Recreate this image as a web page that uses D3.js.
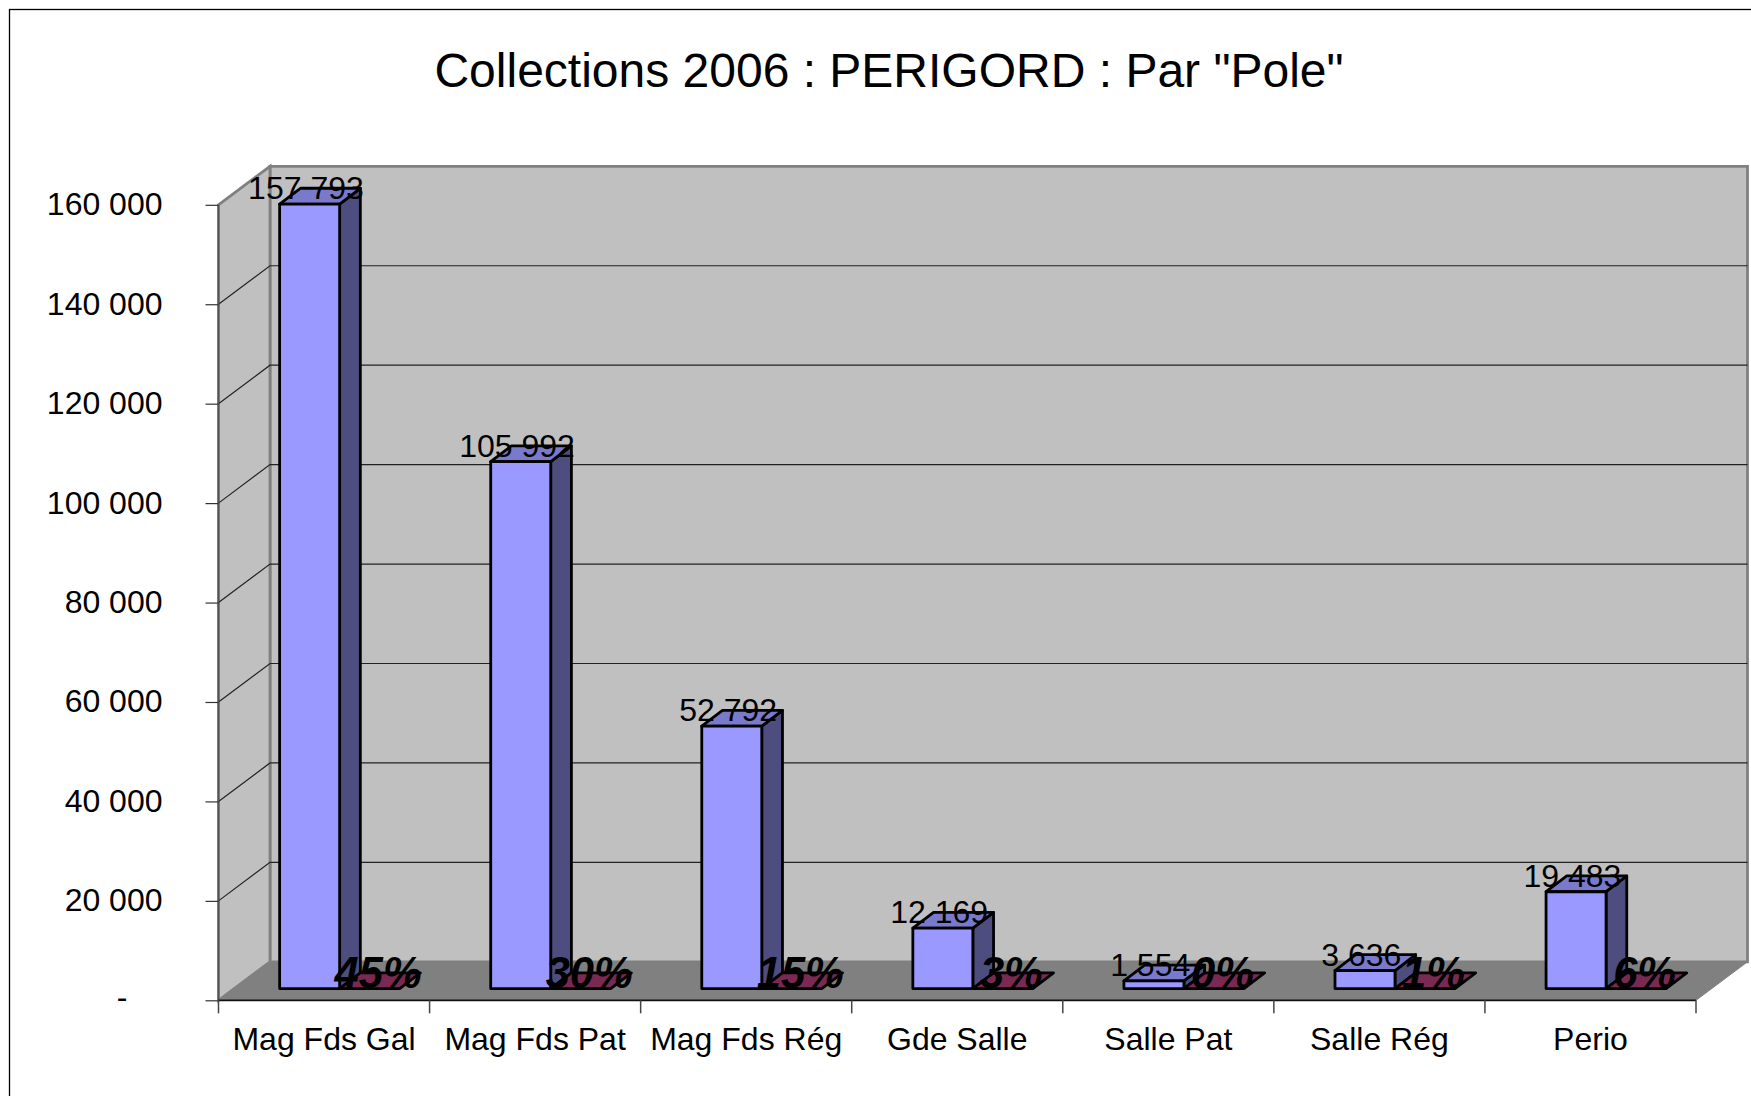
<!DOCTYPE html>
<html><head><meta charset="utf-8">
<script src="https://cdnjs.cloudflare.com/ajax/libs/d3/7.8.5/d3.min.js"></script>
<style>html,body{margin:0;padding:0;background:#fff;overflow:hidden}svg{display:block}text{font-family:"Liberation Sans",Arial,sans-serif;fill:#000}</style>
</head><body>
<svg id="c" width="1751" height="1096"></svg>
<script>
const title = 'Collections 2006 : PERIGORD : Par "Pole"';
const categories = ["Mag Fds Gal","Mag Fds Pat","Mag Fds Rég","Gde Salle","Salle Pat","Salle Rég","Perio"];
const totals = [157793,105992,52792,12169,1554,3636,19483];
const shares = [0.45,0.30,0.15,0.03,0.00,0.01,0.06];
const yTicks = [0,20000,40000,60000,80000,100000,120000,140000,160000];

const W=1751,H=1096;
const svg=d3.select("#c");
const x0=218.5,x1=1696,yB=1000.3,yT=204.8;
const depthX=51.5,depthY=38.5;      // depth of the 3D box
const barDX=15.6,barDY=11.7;        // front plane of the bars
const boxDX=20.7,boxDY=15.8;        // depth of a bar
const barW=60;
const x=d3.scaleBand().domain(categories).range([x0,x1]);
const y=d3.scaleLinear().domain([0,160000]).range([yB,yT]);
const poly=p=>p.map(a=>a.join(",")).join(" ");
const fmt=v=>d3.format(",")(v).replace(/,/g," ");

// frame
svg.append("rect").attr("x",9.5).attr("y",9.5).attr("width",W+20).attr("height",H+20)
  .attr("fill","#fff").attr("stroke","#000").attr("stroke-width",1.3);

svg.append("text").attr("x",889).attr("y",87).attr("text-anchor","middle").attr("font-size",48).text(title);

// walls and floor
const wallStroke="#808080";
svg.append("polygon").attr("points",poly([[x0+depthX,y(160000)-depthY],[x1+depthX,y(160000)-depthY],[x1+depthX,yB-depthY],[x0+depthX,yB-depthY]]))
  .attr("fill","#c0c0c0").attr("stroke",wallStroke).attr("stroke-width",2.8);
svg.append("polygon").attr("points",poly([[x0,y(160000)],[x0+depthX,y(160000)-depthY],[x0+depthX,yB-depthY],[x0,yB]]))
  .attr("fill","#c0c0c0").attr("stroke",wallStroke).attr("stroke-width",2.8);
svg.append("polygon").attr("points",poly([[x0,yB],[x1,yB],[x1+depthX,yB-depthY],[x0+depthX,yB-depthY]]))
  .attr("fill","#808080").attr("stroke",wallStroke).attr("stroke-width",1);

// gridlines
const grid=svg.append("g").attr("fill","none");
yTicks.filter(t=>t>0&&t<160000).forEach(t=>{
  grid.append("polyline").attr("points",poly([[x0,y(t)],[x0+depthX,y(t)-depthY],[x1+depthX,y(t)-depthY]]))
    .attr("stroke","#222").attr("stroke-width",1.2);
});

// axes
const yAxis=d3.axisLeft(y).tickValues(yTicks).tickSize(13).tickPadding(43)
  .tickFormat(v=>v===0?"-":fmt(v));
const gy=svg.append("g").attr("transform",`translate(${x0},0)`).call(yAxis);
gy.select(".domain").attr("stroke","#555").attr("stroke-width",1.6).attr("d",`M0,${yT}V${yB}`);
gy.selectAll(".tick line").attr("stroke","#333").attr("stroke-width",1.2);
gy.selectAll("text").attr("font-size",32).attr("font-family",null).attr("dy","0.31em").attr("fill","#000");
gy.selectAll(".tick text").filter(d=>d===0).attr("x",-91).attr("dy","0.22em");

const xAxis=d3.axisBottom(x).tickSize(0).tickPadding(31);
const gx=svg.append("g").attr("transform",`translate(0,${yB})`).call(xAxis);
gx.select(".domain").attr("stroke","#111").attr("stroke-width",1.8).attr("d",`M${x0},0H${x1}`);
gx.selectAll("text").attr("font-size",32).attr("font-family",null).attr("dy",0).attr("y",50).attr("fill","#000");
const edges=categories.map(c=>x(c)).concat([x1]);
gx.selectAll(".edge").data(edges).join("line").attr("class","edge")
  .attr("x1",d=>d).attr("x2",d=>d).attr("y1",0).attr("y2",13).attr("stroke","#444").attr("stroke-width",1.5);

// bars
const cx=c=>x(c)+x.bandwidth()/2+barDX;
const by=v=>y(v)-barDY;
const bars=svg.append("g").attr("stroke","#000").attr("stroke-width",2.8).attr("stroke-linejoin","round");
categories.forEach((c,i)=>{
  const l=cx(c)-barW, r=cx(c), t=by(totals[i]), b=by(0);
  bars.append("polygon").attr("points",poly([[r,b],[r+boxDX,b-boxDY],[r+boxDX,t-boxDY],[r,t]])).attr("fill","#4d4d80");
  bars.append("polygon").attr("points",poly([[l,t],[r,t],[r+boxDX,t-boxDY],[l+boxDX,t-boxDY]])).attr("fill","#7a7acc");
  bars.append("rect").attr("x",l).attr("y",t).attr("width",barW).attr("height",b-t).attr("fill","#9999ff");
});
categories.forEach((c,i)=>{
  const l=cx(c), r=cx(c)+barW, t=by(shares[i]);
  bars.append("polygon").attr("points",poly([[l,t],[r,t],[r+boxDX,t-boxDY],[l+boxDX,t-boxDY]])).attr("fill","#7a2952");
});

// data labels
const labels=svg.append("g");
labels.selectAll(".val").data(categories).join("text").attr("class","val")
  .attr("x",c=>cx(c)-barW/2-3.7).attr("y",(c,i)=>by(totals[i])-5)
  .attr("text-anchor","middle").attr("font-size",32).text((c,i)=>fmt(totals[i]));
labels.selectAll(".pct").data(categories).join("text").attr("class","pct")
  .attr("x",c=>cx(c)+barW/2+8.5).attr("y",c=>by(0)-1)
  .attr("text-anchor","middle").attr("font-size",43.5).attr("font-weight","bold").attr("font-style","italic")
  .text((c,i)=>d3.format(".0%")(shares[i]));
</script>
</body></html>
